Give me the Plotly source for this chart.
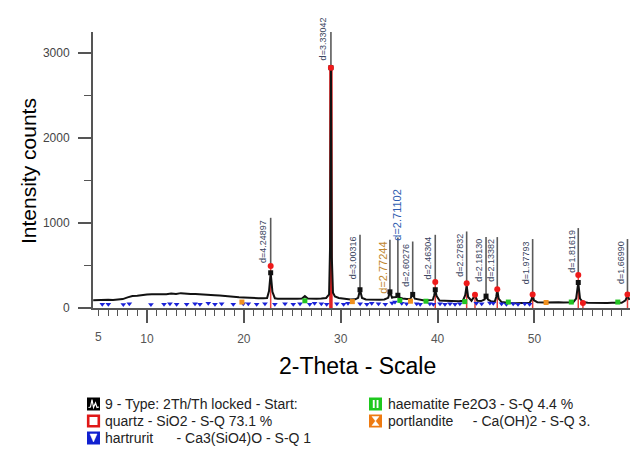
import plotly.graph_objects as go

# ---------------- data ----------------
# measured pattern (2-Theta, counts)
pattern_tt = [4.45, 5.0, 5.5, 6.0, 6.5, 7.0, 7.5, 8.0, 8.5, 9.0, 9.5, 10.0, 10.5, 11.0, 11.5,
              12.0, 12.5, 13.0, 13.5, 14.0, 14.5, 15.0, 15.5, 16.0, 16.5, 17.0, 17.5, 18.0,
              18.5, 19.0, 19.5, 20.0, 20.5, 21.0, 21.5, 22.0, 22.4, 22.6, 22.77, 22.95, 23.2,
              23.5, 24.0, 24.5, 25.0, 25.5, 26.0, 26.3, 26.6, 27.0, 27.5, 28.0, 28.5, 28.8,
              28.9, 28.99, 29.08, 29.2, 29.4, 29.8, 30.2, 30.6, 31.0, 31.5, 31.8, 31.99, 32.2,
              32.6, 33.0, 33.5, 34.0, 34.5, 34.9, 35.08, 35.3, 35.5, 35.75, 35.9, 36.1, 36.4,
              36.8, 37.2, 37.43, 37.65, 38.0, 38.5, 39.0, 39.5, 39.65, 39.76, 39.9, 40.2, 40.7,
              41.2, 41.7, 42.2, 42.6, 42.85, 43.0, 43.15, 43.5, 43.86, 44.1, 44.5, 44.85, 45.0,
              45.2, 45.5, 45.9, 46.05, 46.16, 46.3, 46.6, 47.0, 47.5, 48.0, 48.5, 49.0, 49.5,
              49.7, 49.81, 49.95, 50.3, 51.0, 51.5, 52.0, 52.5, 53.0, 53.5, 54.0, 54.3, 54.52,
              54.7, 55.0, 55.5, 56.0, 56.5, 57.0, 57.5, 58.0, 58.5, 59.0, 59.4, 59.6, 59.8]
pattern_counts = [92, 95, 90, 96, 93, 98, 105, 125, 140, 145, 155, 158, 162, 160, 166,
                  163, 170, 165, 175, 168, 164, 166, 160, 158, 152, 150, 146, 140,
                  137, 132, 128, 125, 120, 118, 116, 114, 118, 200, 415, 190, 115,
                  110, 108, 112, 106, 110, 112, 140, 112, 108, 110, 112, 118, 160,
                  720, 2830, 600, 180, 135, 118, 110, 104, 100, 102, 120, 215, 118,
                  100, 98, 100, 96, 100, 120, 190, 120, 128, 130, 150, 120, 112,
                  105, 110, 160, 110, 100, 92, 90, 95, 150, 215, 140, 88, 85,
                  82, 85, 80, 85, 150, 265, 130, 85, 150, 85, 82, 100, 140,
                  100, 80, 75, 130, 215, 110, 70, 62, 58, 56, 58, 60, 62,
                  100, 160, 90, 68, 66, 68, 65, 68, 64, 66, 68, 110, 300,
                  110, 70, 62, 60, 62, 58, 60, 62, 60, 62, 90, 150, 95]

# quartz reference sticks
quartz_tt = [22.77, 28.99, 39.76, 43.0, 43.86, 46.16, 49.81, 54.52, 55.0, 59.6]
quartz_counts = [494, 2830, 305, 290, 155, 220, 160, 390, 60, 160]

# hartrurit markers
hart_tt = [5.39, 6.01, 7.56, 8.18, 10.41, 11.76, 12.37, 13.06, 14.1, 14.96, 15.47, 16.33,
           17.02, 17.71, 18.91, 19.94, 20.46, 21.32, 22.18, 23.2, 24.25, 25.1, 25.8, 26.8,
           27.3, 28.0, 28.55, 29.6, 30.3, 30.75, 32.0, 32.7, 33.2, 33.9, 34.6, 35.3, 35.6,
           36.3, 36.8, 37.84, 38.2, 39.2, 39.56, 40.25, 40.76, 41.28, 41.8, 42.3, 44.0,
           44.55, 45.4, 45.75, 46.6, 47.1, 47.8, 48.3, 49.0, 49.5]
hart_counts = [45, 45, 40, 50, 40, 45, 50, 45, 45, 50, 45, 55, 45, 50, 45, 50, 50, 45, 50,
               45, 50, 45, 50, 45, 55, 50, 45, 50, 45, 55, 50, 45, 55, 50, 45, 60, 70,
               55, 50, 50, 45, 50, 45, 50, 45, 50, 45, 50, 55, 50, 60, 55, 50, 45, 50,
               45, 50, 45]

# haematite markers
haem_tt = [26.3, 36.1, 38.8, 42.8, 47.3, 53.8, 58.6]
haem_counts = [85, 90, 80, 75, 70, 70, 70]

# portlandite markers
port_tt = [19.8, 31.2, 37.2, 51.2]
port_counts = [70, 75, 80, 65]

# d-spacing labels: text, 2-Theta, peak counts, line-top counts
dlab_text = ["d=4.24897", "d=3.33042", "d=3.00316", "d=2.77244", "d=2.71102", "d=2.60276",
             "d=2.46304", "d=2.27832", "d=2.18130", "d=2.13382", "d=1.97793", "d=1.81619",
             "d=1.66990"]
dlab_tt = [22.77, 28.99, 31.99, 35.08, 35.9, 37.43, 39.76, 43.0, 45.0, 46.16, 49.81, 54.52, 59.6]
dlab_peak = [494, 2830, 215, 190, 150, 160, 305, 290, 140, 220, 160, 390, 160]
dlab_top = [1062, 3250, 862, 803, 830, 783, 862, 901, 835, 835, 812, 941, 812]

# black peak markers
peakmark_tt = [22.77, 28.99, 31.99, 35.08, 35.9, 37.43, 39.76, 45.0, 54.52]
peakmark_counts = [415, 2830, 215, 190, 150, 160, 215, 140, 300]

x_ticks = [10, 20, 30, 40, 50, 60]
y_ticks = [0, 1000, 2000, 3000]

legend_col1 = ["9 - Type: 2Th/Th locked - Start:",
               "quartz - SiO2 - S-Q 73.1 %",
               "hartrurit\u00a0\u00a0\u00a0\u00a0\u00a0 - Ca3(SiO4)O - S-Q 1"]
legend_col2 = ["haematite Fe2O3 - S-Q 4.4 %",
               "portlandite\u00a0\u00a0\u00a0\u00a0 - Ca(OH)2 - S-Q 3."]

# ---------------- layout helpers ----------------
W, H = 630, 450
L, R, T, B = 93, 0, 32, 142
PW, PH = W - L - R, H - T - B
FONT = "Arial, Liberation Sans, sans-serif"


def px(x):
    return (x - L) / PW


def py(y):
    return (H - B - y) / PH


fig = go.Figure()

# quartz sticks
qx, qy = [], []
for t, c in zip(quartz_tt, quartz_counts):
    qx += [t, t, None]
    qy += [0, c, None]
fig.add_trace(go.Scatter(x=qx, y=qy, mode="lines",
                         line=dict(color="#e8403c", width=1.5), hoverinfo="skip"))
fig.add_trace(go.Scatter(x=[quartz_tt[1], quartz_tt[1]], y=[0, quartz_counts[1]], mode="lines",
                         line=dict(color="#e02222", width=3.5), hoverinfo="skip"))

# measured pattern
fig.add_trace(go.Scatter(x=pattern_tt, y=pattern_counts, mode="lines",
                         line=dict(color="#111111", width=2), hoverinfo="skip"))

# label lines
lx, ly = [], []
for t, p, top in zip(dlab_tt, dlab_peak, dlab_top):
    lx += [t, t, None]
    ly += [p, top, None]
fig.add_trace(go.Scatter(x=lx, y=ly, mode="lines",
                         line=dict(color="#5a5a5a", width=1.6), hoverinfo="skip"))

# phase markers
fig.add_trace(go.Scatter(x=hart_tt, y=hart_counts, mode="markers",
                         marker=dict(symbol="triangle-down", size=5, color="#1a22d8"),
                         hoverinfo="skip", cliponaxis=False))
fig.add_trace(go.Scatter(x=haem_tt, y=haem_counts, mode="markers",
                         marker=dict(symbol="square", size=5, color="#22c422"),
                         hoverinfo="skip", cliponaxis=False))
fig.add_trace(go.Scatter(x=port_tt, y=port_counts, mode="markers",
                         marker=dict(symbol="square", size=5, color="#f0901e"),
                         hoverinfo="skip", cliponaxis=False))
fig.add_trace(go.Scatter(x=peakmark_tt, y=peakmark_counts, mode="markers",
                         marker=dict(symbol="square", size=5, color="#111111"),
                         hoverinfo="skip"))
fig.add_trace(go.Scatter(x=quartz_tt, y=quartz_counts, mode="markers",
                         marker=dict(symbol="circle", size=6, color="#ee1a1a"),
                         hoverinfo="skip"))

annotations = []
# d labels
for txt, t, top in zip(dlab_text, dlab_tt, dlab_top):
    color = "#3a4560"
    size = 9
    xshift = -7
    y = top
    yanchor = "top"
    if txt == "d=2.77244":
        color, size = "#c0862e", 11
    if txt == "d=2.71102":
        color, size, xshift, y, yanchor = "#2f5db0", 11, -1, 1427, "top"
    if txt == "d=3.33042":
        y, yanchor = 3174, "middle"
    annotations.append(dict(x=t, y=y, xref="x", yref="y", text=txt, textangle=-90,
                            showarrow=False, xanchor="center", yanchor=yanchor, xshift=xshift,
                            font=dict(family=FONT, size=size, color=color)))

# "5" tick label
annotations.append(dict(x=5, y=py(337), xref="x", yref="paper", text="5", showarrow=False,
                        xanchor="center", yanchor="middle",
                        font=dict(family=FONT, size=12, color="#555555")))
# axis titles
annotations.append(dict(x=px(28), y=py(171), xref="paper", yref="paper", text="Intensity counts",
                        textangle=-90, showarrow=False, xanchor="center", yanchor="middle",
                        font=dict(family=FONT, size=21, color="#000000")))
annotations.append(dict(x=px(357), y=py(366), xref="paper", yref="paper", text="2-Theta - Scale",
                        showarrow=False, xanchor="center", yanchor="middle",
                        font=dict(family=FONT, size=23, color="#000000")))

# legend
row_y = [404, 421, 438]
col_icon_x = [87, 369]
col_text_x = [103, 386]
shapes = []
ICON = 13


def icon_rect(x0, yc, fill, line_color=None, line_w=0):
    return dict(type="rect", xref="paper", yref="paper",
                x0=px(x0), x1=px(x0 + ICON), y0=py(yc + ICON / 2), y1=py(yc - ICON / 2),
                fillcolor=fill, line=dict(color=line_color or fill, width=line_w), layer="above")


def path_from(points, closed=True):
    s = "M " + " L ".join(f"{px(a):.5f},{py(b):.5f}" for a, b in points)
    return s + (" Z" if closed else "")


# row1 col1: pattern icon
x0, yc = col_icon_x[0], row_y[0]
shapes.append(icon_rect(x0, yc, "#000000"))
wave = [(x0 + 1.5, yc + 3.5), (x0 + 3.5, yc + 3), (x0 + 5, yc - 4.5), (x0 + 6.5, yc + 3.5),
        (x0 + 8.5, yc - 1), (x0 + 10, yc + 3.5), (x0 + 12, yc + 3)]
shapes.append(dict(type="path", xref="paper", yref="paper", path=path_from(wave, False),
                   line=dict(color="#ffffff", width=1.2), layer="above"))
# row2 col1: quartz
x0, yc = col_icon_x[0], row_y[1]
shapes.append(dict(type="rect", xref="paper", yref="paper",
                   x0=px(x0 + 1.2), x1=px(x0 + ICON - 1.2), y0=py(yc + ICON / 2 - 1.2),
                   y1=py(yc - ICON / 2 + 1.2),
                   fillcolor="#ffffff", line=dict(color="#e01818", width=2.6), layer="above"))
# row3 col1: hartrurit
x0, yc = col_icon_x[0], row_y[2]
shapes.append(icon_rect(x0, yc, "#1020d0"))
shapes.append(dict(type="path", xref="paper", yref="paper",
                   path=path_from([(x0 + 3, yc - 4), (x0 + 10, yc - 4), (x0 + 6.5, yc + 4)]),
                   fillcolor="#ffffff", line=dict(color="#ffffff", width=0.5), layer="above"))
# row1 col2: haematite
x0, yc = col_icon_x[1], row_y[0]
shapes.append(icon_rect(x0, yc, "#1ec81e"))
for bx in (x0 + 3.8, x0 + 7.6):
    shapes.append(dict(type="rect", xref="paper", yref="paper",
                       x0=px(bx), x1=px(bx + 1.9), y0=py(yc + 4), y1=py(yc - 4),
                       fillcolor="#ffffff", line=dict(width=0), layer="above"))
# row2 col2: portlandite
x0, yc = col_icon_x[1], row_y[1]
shapes.append(icon_rect(x0, yc, "#ee7a10"))
shapes.append(dict(type="path", xref="paper", yref="paper",
                   path=path_from([(x0 + 3, yc - 4.5), (x0 + 10, yc - 4.5), (x0 + 6.5, yc),
                                   (x0 + 10, yc + 4.5), (x0 + 3, yc + 4.5), (x0 + 6.5, yc)]),
                   fillcolor="#ffffff", line=dict(color="#ffffff", width=0.5), layer="above"))

for i, txt in enumerate(legend_col1):
    annotations.append(dict(x=px(col_text_x[0]), y=py(row_y[i]), xref="paper", yref="paper",
                            text=txt, showarrow=False, xanchor="left", yanchor="middle",
                            font=dict(family=FONT, size=14, color="#222222")))
for i, txt in enumerate(legend_col2):
    annotations.append(dict(x=px(col_text_x[1]), y=py(row_y[i]), xref="paper", yref="paper",
                            text=txt, showarrow=False, xanchor="left", yanchor="middle",
                            font=dict(family=FONT, size=14, color="#222222")))

fig.update_layout(
    width=W, height=H,
    margin=dict(l=L, r=R, t=T, b=B, pad=0),
    paper_bgcolor="#ffffff", plot_bgcolor="#ffffff",
    showlegend=False,
    annotations=annotations,
    shapes=shapes,
    xaxis=dict(range=[4.43, 59.86], tickvals=x_ticks, ticks="outside", ticklen=13,
               tickwidth=1.5, tickcolor="#555555", showline=True, linecolor="#555555",
               linewidth=2, showgrid=False, zeroline=False, ticklabelstandoff=6,
               tickfont=dict(family=FONT, size=12, color="#555555"),
               minor=dict(dtick=1, tick0=0, ticks="outside", ticklen=6, tickwidth=1.2,
                          tickcolor="#555555", showgrid=False)),
    yaxis=dict(range=[0, 3250], tickvals=y_ticks, ticks="outside", ticklen=13,
               tickwidth=1.5, tickcolor="#555555", showline=True, linecolor="#555555",
               linewidth=2, showgrid=False, zeroline=False, ticklabelstandoff=6,
               tickfont=dict(family=FONT, size=12, color="#444444"),
               minor=dict(dtick=500, tick0=0, ticks="outside", ticklen=7, tickwidth=1.2,
                          tickcolor="#555555", showgrid=False)),
)

fig.write_html("out.html")
